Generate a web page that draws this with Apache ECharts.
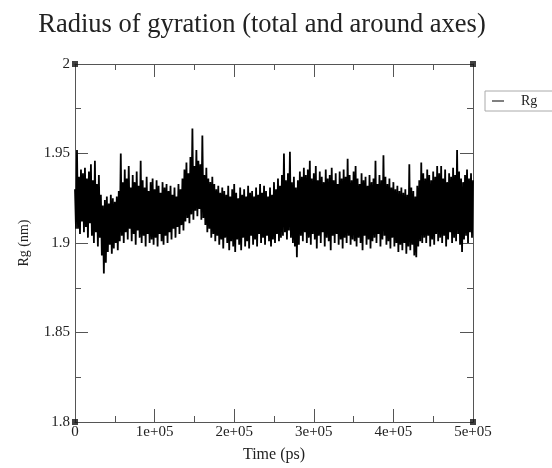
<!DOCTYPE html>
<html>
<head>
<meta charset="utf-8">
<script src="https://cdn.jsdelivr.net/npm/echarts@6/dist/echarts.min.js"></script>
<style>
  html, body { margin: 0; padding: 0; background: #fff; }
  #chart { width: 552px; height: 468px; }
</style>
</head>
<body>
<div id="chart"></div>
<script>
// time step of the trajectory (ps)
const timeStep = 1250
// Rg (nm), one value per frame
const rgValues = [
  1.930, 1.908, 1.952, 1.908, 1.937, 1.905, 1.941, 1.912, 1.939, 1.906,
  1.942, 1.909, 1.936, 1.903, 1.940, 1.911, 1.944, 1.904, 1.935, 1.900,
  1.946, 1.906, 1.933, 1.898, 1.938, 1.903, 1.927, 1.893, 1.921, 1.883,
  1.924, 1.889, 1.926, 1.895, 1.922, 1.899, 1.927, 1.894, 1.925, 1.897,
  1.923, 1.900, 1.926, 1.896, 1.929, 1.901, 1.950, 1.904, 1.934, 1.900,
  1.941, 1.906, 1.936, 1.902, 1.943, 1.908, 1.931, 1.901, 1.938, 1.905,
  1.934, 1.899, 1.940, 1.907, 1.932, 1.903, 1.946, 1.900, 1.935, 1.904,
  1.931, 1.898, 1.937, 1.905, 1.929, 1.900, 1.934, 1.902, 1.936, 1.899,
  1.930, 1.903, 1.935, 1.898, 1.932, 1.905, 1.928, 1.901, 1.934, 1.899,
  1.931, 1.904, 1.933, 1.900, 1.929, 1.906, 1.932, 1.902, 1.927, 1.908,
  1.931, 1.903, 1.926, 1.909, 1.933, 1.905, 1.930, 1.910, 1.936, 1.907,
  1.941, 1.912, 1.945, 1.914, 1.939, 1.911, 1.948, 1.916, 1.964, 1.913,
  1.943, 1.918, 1.952, 1.915, 1.946, 1.919, 1.944, 1.913, 1.960, 1.914,
  1.938, 1.910, 1.942, 1.906, 1.936, 1.908, 1.934, 1.903, 1.937, 1.905,
  1.933, 1.901, 1.930, 1.904, 1.932, 1.899, 1.928, 1.902, 1.931, 1.897,
  1.929, 1.903, 1.927, 1.900, 1.932, 1.896, 1.926, 1.901, 1.930, 1.898,
  1.933, 1.895, 1.928, 1.902, 1.925, 1.899, 1.931, 1.896, 1.927, 1.903,
  1.930, 1.898, 1.926, 1.901, 1.932, 1.897, 1.928, 1.904, 1.929, 1.899,
  1.926, 1.902, 1.931, 1.898, 1.927, 1.905, 1.933, 1.900, 1.928, 1.903,
  1.932, 1.899, 1.929, 1.904, 1.926, 1.901, 1.931, 1.898, 1.927, 1.902,
  1.934, 1.900, 1.930, 1.905, 1.936, 1.901, 1.932, 1.903, 1.938, 1.904,
  1.950, 1.906, 1.935, 1.902, 1.939, 1.907, 1.951, 1.903, 1.934, 1.900,
  1.937, 1.898, 1.931, 1.892, 1.935, 1.899, 1.940, 1.904, 1.937, 1.901,
  1.942, 1.906, 1.938, 1.900, 1.941, 1.903, 1.946, 1.899, 1.936, 1.905,
  1.939, 1.902, 1.943, 1.897, 1.935, 1.904, 1.940, 1.900, 1.937, 1.906,
  1.934, 1.898, 1.941, 1.903, 1.936, 1.901, 1.938, 1.896, 1.942, 1.904,
  1.935, 1.900, 1.939, 1.905, 1.933, 1.899, 1.940, 1.902, 1.936, 1.897,
  1.941, 1.903, 1.937, 1.900, 1.947, 1.904, 1.938, 1.899, 1.935, 1.902,
  1.940, 1.901, 1.943, 1.898, 1.936, 1.903, 1.933, 1.900, 1.939, 1.896,
  1.935, 1.904, 1.937, 1.899, 1.932, 1.902, 1.938, 1.897, 1.934, 1.901,
  1.936, 1.903, 1.946, 1.900, 1.933, 1.905, 1.938, 1.898, 1.935, 1.902,
  1.949, 1.904, 1.937, 1.899, 1.933, 1.901, 1.936, 1.897, 1.931, 1.903,
  1.934, 1.898, 1.930, 1.900, 1.932, 1.895, 1.929, 1.899, 1.931, 1.896,
  1.928, 1.900, 1.930, 1.894, 1.927, 1.898, 1.944, 1.896, 1.931, 1.899,
  1.929, 1.893, 1.926, 1.892, 1.932, 1.898, 1.935, 1.901, 1.945, 1.900,
  1.939, 1.903, 1.936, 1.900, 1.941, 1.904, 1.938, 1.898, 1.935, 1.902,
  1.940, 1.899, 1.937, 1.905, 1.943, 1.901, 1.939, 1.903, 1.943, 1.900,
  1.936, 1.904, 1.941, 1.898, 1.934, 1.902, 1.939, 1.906, 1.937, 1.900,
  1.942, 1.903, 1.938, 1.901, 1.952, 1.905, 1.940, 1.899, 1.936, 1.895,
  1.934, 1.902, 1.938, 1.904, 1.941, 1.900, 1.936, 1.906, 1.939, 1.903,
  1.935
]
const xTickLabels = ['0', '1e+05', '2e+05', '3e+05', '4e+05', '5e+05']
const yTickLabels = ['1.8', '1.85', '1.9', '1.95', '2']
// little black squares xmgrace draws at the frame corners
const corners = [[0, 1.8], [0, 2], [500000, 1.8], [500000, 2]]

const serif = '"Liberation Serif", "DejaVu Serif", serif'

let rgData = []
for (let i = 0; i < rgValues.length; i++) {
  rgData.push([i * timeStep, rgValues[i]])
}

const chart = echarts.init(document.getElementById('chart'))

const frameAxis = {
  min: 0,
  max: 500000,
  interval: 100000,
  axisLine: { show: true, onZero: false, lineStyle: { color: '#555', width: 1 } },
  axisTick: { show: true, inside: true, length: 13, lineStyle: { color: '#555' } },
  minorTick: { show: true, splitNumber: 2, length: 6, lineStyle: { color: '#555' } },
  splitLine: { show: false }
}

let option = {
  animation: false,
  backgroundColor: '#fff',
  title: {
    text: 'Radius of gyration (total and around axes)',
    left: 257,
    top: 7,
    textAlign: 'center',
    textStyle: { fontFamily: serif, fontSize: 26.5, fontWeight: 'normal', color: '#222' }
  },
  legend: {
    data: ['Rg'],
    left: 485,
    top: 91,
    orient: 'vertical',
    borderColor: '#aaa',
    borderWidth: 1,
    padding: [3, 30, 3, 7],
    itemWidth: 12,
    itemHeight: 1,
    icon: 'rect',
    textStyle: { fontFamily: serif, fontSize: 14, color: '#222', padding: [0, 0, 0, 12] }
  },
  grid: { left: 75, right: 79, top: 64, bottom: 35, containLabel: false },
  xAxis: [
    Object.assign({}, frameAxis, {
      type: 'value',
      position: 'bottom',
      name: 'Time (ps)',
      nameLocation: 'middle',
      nameGap: 25,
      nameTextStyle: { fontFamily: serif, fontSize: 16, color: '#222' },
      axisLabel: {
        margin: 3,
        fontFamily: serif,
        fontSize: 15,
        color: '#222',
        formatter: v => xTickLabels[Math.round(v / 100000)]
      }
    }),
    Object.assign({}, frameAxis, {
      type: 'value',
      position: 'top',
      axisLabel: { show: false }
    })
  ],
  yAxis: [
    Object.assign({}, frameAxis, {
      type: 'value',
      position: 'left',
      min: 1.8,
      max: 2,
      interval: 0.05,
      name: 'Rg (nm)',
      nameLocation: 'middle',
      nameGap: 44,
      nameTextStyle: { fontFamily: serif, fontSize: 14, color: '#222' },
      axisLabel: {
        margin: 5,
        fontFamily: serif,
        fontSize: 15,
        color: '#222',
        formatter: v => yTickLabels[Math.round((v - 1.8) / 0.05)]
      }
    }),
    Object.assign({}, frameAxis, {
      type: 'value',
      position: 'right',
      min: 1.8,
      max: 2,
      interval: 0.05,
      axisLabel: { show: false }
    })
  ],
  series: [
    {
      name: 'Rg',
      type: 'line',
      data: rgData,
      showSymbol: false,
      symbol: 'none',
      sampling: null,
      color: '#000',
      lineStyle: { color: '#000', width: 1.8 },
      emphasis: { disabled: true }
    },
    {
      name: 'corners',
      type: 'scatter',
      data: corners,
      symbol: 'rect',
      symbolSize: 6,
      itemStyle: { color: '#111' },
      silent: true,
      z: 5
    }
  ]
}
chart.setOption(option)
</script>
</body>
</html>
